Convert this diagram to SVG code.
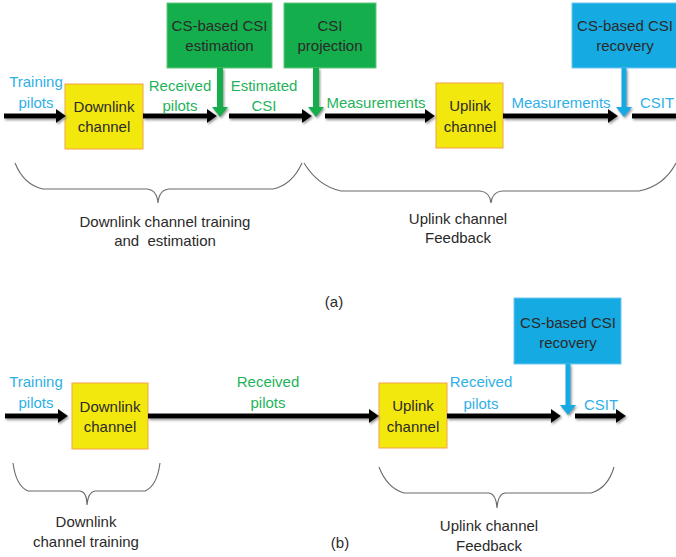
<svg xmlns="http://www.w3.org/2000/svg" width="676" height="557" viewBox="0 0 676 557">
<defs>
  <style>
    text { font-family: "Liberation Sans", Arial, sans-serif; font-size: 15px; text-anchor: middle; }
    .dark { fill: #2a2a2a; }
    .blue { fill: #2fb0e6; }
    .green { fill: #24b35a; }
    .gbox { fill: #14ae4c; stroke: #62c878; stroke-width: 1; }
    .bbox { fill: #16aae2; stroke: #6cc6ee; stroke-width: 1; }
    .ybox { fill: #f3e80e; stroke: #f2a24a; stroke-width: 1; }
    .flow { stroke: #000; stroke-width: 5; fill: none; marker-end: url(#ah); }
    .gdown { stroke: #14ae4c; stroke-width: 6; fill: none; marker-end: url(#ahg); }
    .bdown { stroke: #16aae2; stroke-width: 5; fill: none; marker-end: url(#ahb); }
    .brace { stroke: #6b6b6b; stroke-width: 1.1; fill: none; }
  </style>
  <filter id="sh" x="-10%" y="-50%" width="130%" height="250%">
    <feDropShadow dx="1.2" dy="1.6" stdDeviation="0.9" flood-color="#7a7a7a" flood-opacity="0.8"/>
  </filter>
  <marker id="ah" markerUnits="userSpaceOnUse" markerWidth="12" markerHeight="14" refX="1" refY="7" orient="auto">
    <path d="M0,0 L10,7 L0,14 z" fill="#000"/>
  </marker>
  <marker id="ahg" markerUnits="userSpaceOnUse" markerWidth="11" markerHeight="16" refX="1" refY="8" orient="auto">
    <path d="M0,0 L10,8 L0,16 z" fill="#14ae4c"/>
  </marker>
  <marker id="ahb" markerUnits="userSpaceOnUse" markerWidth="11" markerHeight="16" refX="1" refY="8" orient="auto">
    <path d="M0,0 L10,8 L0,16 z" fill="#16aae2"/>
  </marker>
</defs>
<rect width="676" height="557" fill="#fff"/>

<!-- ===== Panel (a) ===== -->
<g id="a-cs-estimation">
  <rect class="gbox" x="167" y="3" width="105" height="65"/>
  <text class="dark" x="219.5" y="31">CS-based CSI</text>
  <text class="dark" x="219.5" y="51">estimation</text>
</g>
<g id="a-csi-projection">
  <rect class="gbox" x="284" y="3" width="92" height="65"/>
  <text class="dark" x="330" y="31">CSI</text>
  <text class="dark" x="330" y="51">projection</text>
</g>
<g id="a-cs-recovery">
  <rect class="bbox" x="572" y="3" width="108" height="65"/>
  <text class="dark" x="625" y="31">CS-based CSI</text>
  <text class="dark" x="625" y="51">recovery</text>
</g>
<g id="a-downlink">
  <rect class="ybox" x="65" y="84" width="78" height="65"/>
  <text class="dark" x="104" y="112">Downlink</text>
  <text class="dark" x="104" y="132">channel</text>
</g>
<g id="a-uplink">
  <rect class="ybox" x="436" y="83" width="67" height="65"/>
  <text class="dark" x="470" y="111">Uplink</text>
  <text class="dark" x="470" y="132">channel</text>
</g>

<!-- ===== Panel (b) ===== -->
<g id="b-downlink">
  <rect class="ybox" x="72" y="383" width="76" height="66"/>
  <text class="dark" x="110" y="412">Downlink</text>
  <text class="dark" x="110" y="432">channel</text>
</g>
<g id="b-uplink">
  <rect class="ybox" x="379" y="383" width="68" height="65"/>
  <text class="dark" x="413" y="411">Uplink</text>
  <text class="dark" x="413" y="432">channel</text>
</g>
<g id="b-cs-recovery">
  <rect class="bbox" x="514" y="298" width="107" height="66"/>
  <text class="dark" x="568" y="328">CS-based CSI</text>
  <text class="dark" x="568" y="348">recovery</text>
</g>

<!-- ===== Connectors ===== -->
<g id="connectors" filter="url(#sh)">
  <!-- panel (a) -->
  <line class="flow" x1="4" y1="116" x2="57" y2="116"/>
  <line class="flow" x1="143" y1="116" x2="208" y2="116"/>
  <line class="flow" x1="229" y1="116" x2="303" y2="116"/>
  <line class="flow" x1="325" y1="116" x2="426" y2="116"/>
  <line class="flow" x1="503" y1="116" x2="609" y2="116"/>
  <line class="flow" x1="632" y1="116" x2="690" y2="116"/>
  <line class="gdown" x1="220" y1="68" x2="220" y2="108"/>
  <line class="gdown" x1="316" y1="68" x2="316" y2="108"/>
  <line class="bdown" x1="624" y1="68" x2="624" y2="108"/>
  <!-- panel (b) -->
  <line class="flow" x1="5" y1="416" x2="59" y2="416"/>
  <line class="flow" x1="148" y1="416" x2="370" y2="416"/>
  <line class="flow" x1="447" y1="416" x2="552" y2="416"/>
  <line class="flow" x1="575" y1="416" x2="617" y2="416"/>
  <line class="bdown" x1="568" y1="364" x2="568" y2="406"/>
</g>

<!-- ===== Flow labels ===== -->
<g id="labels-a">
  <text class="blue" x="36" y="87">Training</text>
  <text class="blue" x="36" y="108">pilots</text>
  <text class="green" x="180" y="91">Received</text>
  <text class="green" x="180" y="111">pilots</text>
  <text class="green" x="264" y="91">Estimated</text>
  <text class="green" x="264" y="111">CSI</text>
  <text class="green" x="376" y="108">Measurements</text>
  <text class="blue" x="561" y="108">Measurements</text>
  <text class="blue" x="657" y="108">CSIT</text>
</g>
<g id="labels-b">
  <text class="blue" x="36" y="387">Training</text>
  <text class="blue" x="36" y="408">pilots</text>
  <text class="green" x="268" y="387">Received</text>
  <text class="green" x="268" y="408">pilots</text>
  <text class="blue" x="481" y="387">Received</text>
  <text class="blue" x="481" y="409">pilots</text>
  <text class="blue" x="601" y="410">CSIT</text>
</g>

<!-- ===== Braces ===== -->
<g id="brace-a-downlink">
  <path class="brace" d="M15,163 Q24,185 43,189 L147,189 Q157,190 158,203 Q159,190 169,189 L273,189 Q292,185 302,163"/>
  <text class="dark" x="165" y="227">Downlink channel training</text>
  <text class="dark" x="165" y="246" xml:space="preserve">and  estimation</text>
</g>
<g id="brace-a-uplink">
  <path class="brace" d="M304,163 Q318,186 341,191 L480,191 Q490,192 491,203 Q492,192 502,191 L639,191 Q664,186 676,163"/>
  <text class="dark" x="458" y="224">Uplink channel</text>
  <text class="dark" x="458" y="243">Feedback</text>
</g>
<g id="brace-b-downlink">
  <path class="brace" d="M13,463 Q16,486 28,491 L80,491 Q87,492 87,505 Q88,492 95,491 L145,491 Q157,486 160,463"/>
  <text class="dark" x="86" y="527">Downlink</text>
  <text class="dark" x="86" y="547">channel training</text>
</g>
<g id="brace-b-uplink">
  <path class="brace" d="M379,467 Q387,488 404,493 L489,493 Q496,494 497,508 Q498,494 505,493 L591,493 Q608,488 614,467"/>
  <text class="dark" x="489" y="531">Uplink channel</text>
  <text class="dark" x="489" y="551">Feedback</text>
</g>

<text class="dark" x="334" y="307">(a)</text>
<text class="dark" x="340" y="548">(b)</text>
</svg>
